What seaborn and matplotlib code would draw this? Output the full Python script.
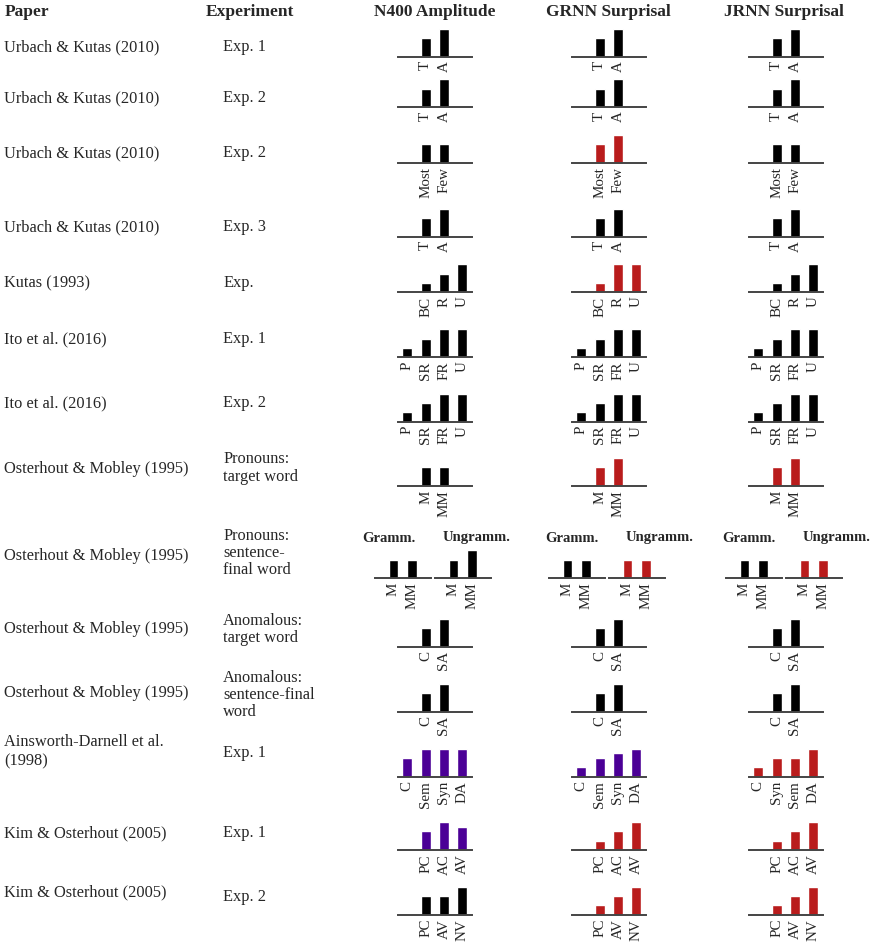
import numpy as np
import pandas as pd
import matplotlib
matplotlib.use("Agg")
import matplotlib.pyplot as plt
import seaborn as sns

# Datos (niveles relativos 1-3)
papers = ["Urbach & Kutas (2010)", "Urbach & Kutas (2010)", "Urbach & Kutas (2010)",
          "Urbach & Kutas (2010)", "Kutas (1993)", "Ito et al. (2016)", "Ito et al. (2016)",
          "Osterhout & Mobley (1995)", "Osterhout & Mobley (1995)", "Osterhout & Mobley (1995)",
          "Osterhout & Mobley (1995)", "Ainsworth-Darnell et al.\n(1998)",
          "Kim & Osterhout (2005)", "Kim & Osterhout (2005)"]
experiments = ["Exp. 1", "Exp. 2", "Exp. 2", "Exp. 3", "Exp.", "Exp. 1", "Exp. 2",
               "Pronouns:\ntarget word", "Pronouns:\nsentence-\nfinal word",
               "Anomalous:\ntarget word", "Anomalous:\nsentence-final\nword",
               "Exp. 1", "Exp. 1", "Exp. 2"]
measures = ["N400 Amplitude", "GRNN Surprisal", "JRNN Surprisal"]

conditions = [["T", "A"], ["T", "A"], ["Most", "Few"], ["T", "A"], ["BC", "R", "U"],
              ["P", "SR", "FR", "U"], ["P", "SR", "FR", "U"], ["M", "MM"], None,
              ["C", "SA"], ["C", "SA"], ["C", "Sem", "Syn", "DA"],
              ["PC", "AC", "AV"], ["PC", "AV", "NV"]]
jrnn_conditions_ainsworth = ["C", "Syn", "Sem", "DA"]

n400 = [[2, 3], [2, 3], [2, 2], [2, 3], [1, 2, 3], [1, 2, 3, 3], [1, 2, 3, 3], [2, 2], None,
        [2, 3], [2, 3], [2, 3, 3, 3], [2, 3, 2.5], [2, 2, 3]]
grnn = [[2, 3], [2, 3], [2, 3], [2, 3], [1, 3, 3], [1, 2, 3, 3], [1, 2, 3, 3], [2, 3], None,
        [2, 3], [2, 3], [1, 2, 2.5, 3], [1, 2, 3], [1, 2, 3]]
jrnn = [[2, 3], [2, 3], [2, 2], [2, 3], [1, 2, 3], [1, 2, 3, 3], [1, 2, 3, 3], [2, 3], None,
        [2, 3], [2, 3], [1, 2, 2, 3], [1, 2, 3], [1, 2, 3]]

n400_colors = ["k", "k", "k", "k", "k", "k", "k", "k", None, "k", "k", "p", "p", "k"]
grnn_colors = ["k", "k", "r", "k", "r", "k", "k", "r", None, "k", "k", "p", "r", "r"]
jrnn_colors = ["k", "k", "k", "k", "k", "k", "k", "r", None, "k", "k", "r", "r", "r"]

# Fila Gramm./Ungramm. (Osterhout & Mobley, sentence-final)
pair_conditions = ["M", "MM"]
n400_gramm, n400_ungramm = [2, 2], [2, 3]
grnn_gramm, grnn_ungramm = [2, 2], [2, 2]
jrnn_gramm, jrnn_ungramm = [2, 2], [2, 2]
pair_colors = [("k", "k"), ("k", "r"), ("k", "r")]

paleta = {"k": "#000000", "r": "#B91C1C", "p": "#4B0096"}

# ---------------------------------------------------------------------
sns.set_style("white")
plt.rcParams['font.family'] = ['Liberation Serif', 'DejaVu Serif']

W, H = 872, 943
fig = plt.figure(figsize=(W / 100, H / 100), dpi=100)

# posiciones en pixeles
baselines = [56.7, 107.3, 162.7, 236.7, 292.3, 357.3, 421.7, 486, 578.3, 647, 711.7,
             776.7, 850, 914.7]
paper_y = [47, 98, 153, 227.3, 283.3, 339, 403, 469.3, 556, 629.3, 693.3, 751.5, 833.3, 892.7]
exp_y = [47, 98, 153, 227.3, 283.3, 339, 403, 468, 553.3, 629.7, 694.8, 752.7, 833.3, 896.7]
col_left = [398, 572, 749]
col_center = [435, 608, 784]
gramm_x = [362, 545, 722]
ungramm_x = [443, 626, 803]
UNIT = 9.3
AX_H = 32


def px_axes(left, base, width):
    return fig.add_axes([left / W, 1 - base / H, width / W, AX_H / H])


def draw_bars(ax, conds, vals, color, xlim):
    sns.barplot(x=conds, y=vals, color=paleta[color], saturation=1, width=0.54, ax=ax)
    ax.set_xlim(*xlim)
    ax.set_ylim(0, AX_H / UNIT)
    for s in ["top", "left", "right"]:
        ax.spines[s].set_visible(False)
    ax.spines["bottom"].set_color("#444444")
    ax.spines["bottom"].set_linewidth(1.4)
    ax.set_yticks([])
    ax.set_xlabel("")
    ax.set_ylabel("")
    ax.tick_params(axis="x", length=0, pad=3, labelrotation=90, labelsize=10.8)
    ax.patch.set_alpha(0)


def fig_text(x, y, s, **kw):
    fig.text(x / W, 1 - y / H, s, **kw)


# Encabezados
fig_text(5, 12, "Paper", fontsize=12.5, fontweight="bold", va="center")
fig_text(206, 12, "Experiment", fontsize=12.5, fontweight="bold", va="center")
for c, m in zip(col_center, measures):
    fig_text(c, 12, m, fontsize=12.5, fontweight="bold", va="center", ha="center")

# Filas
for i in range(len(papers)):
    fig_text(4, paper_y[i], papers[i], fontsize=11.8, va="center", linespacing=1.25)
    fig_text(223, exp_y[i], experiments[i], fontsize=11.8, va="center", linespacing=1.1)

    if conditions[i] is None:
        pares = [(n400_gramm, n400_ungramm), (grnn_gramm, grnn_ungramm), (jrnn_gramm, jrnn_ungramm)]
        for j in range(3):
            ax1 = px_axes(col_left[j] - 23, baselines[i], 55.5)
            draw_bars(ax1, pair_conditions, pares[j][0], pair_colors[j][0], (-1, 2))
            ax2 = px_axes(col_left[j] + 37, baselines[i], 55.5)
            draw_bars(ax2, pair_conditions, pares[j][1], pair_colors[j][1], (-1, 2))
            fig_text(gramm_x[j], 538, "Gramm.", fontsize=10.5, fontweight="bold", va="center")
            fig_text(ungramm_x[j], 538, "Ungramm.", fontsize=10.5, fontweight="bold", va="center")
        continue

    series = [n400[i], grnn[i], jrnn[i]]
    colores = [n400_colors[i], grnn_colors[i], jrnn_colors[i]]
    for j in range(3):
        conds = conditions[i]
        if j == 2 and i == 11:
            conds = jrnn_conditions_ainsworth
        # las graficas de 2-3 barras empiezan en el segundo hueco
        start = 0 if len(conds) == 4 else 1
        ax = px_axes(col_left[j], baselines[i], 73.5)
        draw_bars(ax, conds, series[j], colores[j], (-0.5 - start, 3.5 - start))

plt.savefig("out.png", dpi=100)
